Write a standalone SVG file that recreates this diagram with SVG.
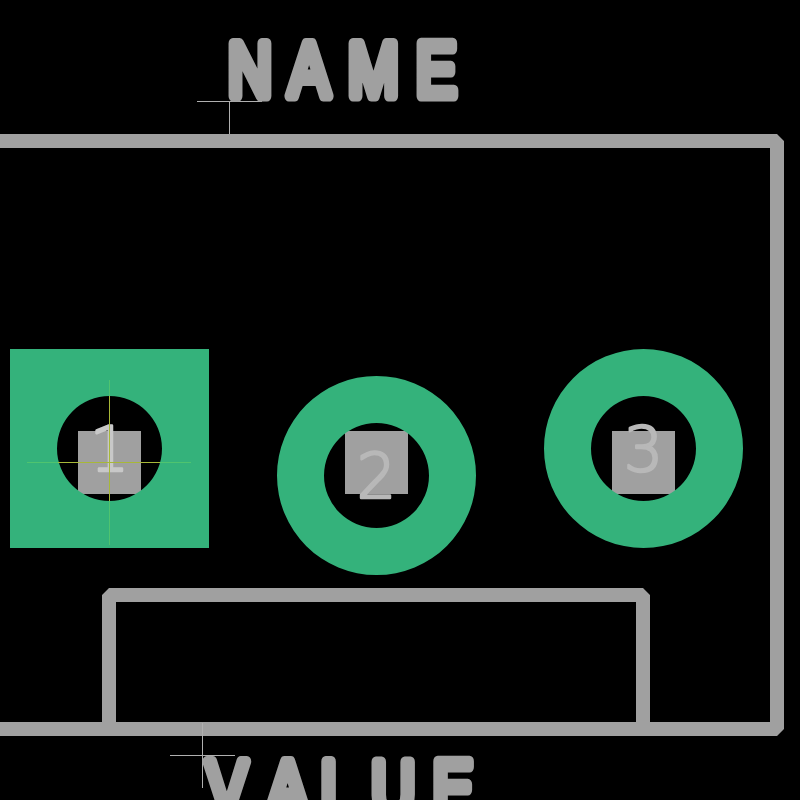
<svg xmlns="http://www.w3.org/2000/svg" width="800" height="800" viewBox="0 0 800 800">
<style>
.outline{fill:none;stroke:#a0a0a0;stroke-width:14;stroke-linejoin:bevel}
.label{font-family:"Liberation Sans",Arial,sans-serif;font-size:76px;fill:#a0a0a0;stroke:#a0a0a0;stroke-width:10;stroke-linejoin:round;stroke-linecap:round;vector-effect:non-scaling-stroke}
.drill{fill:#a0a0a0}
.cu{fill:#34b27b;fill-rule:evenodd}
.num{font-family:"DejaVu Sans",sans-serif;font-size:62px;font-weight:200;text-anchor:middle;stroke-width:2.500;stroke-linejoin:round}
.cross{stroke:#b0b0b0;stroke-width:1;fill:none}
</style>
<rect width="800" height="800" fill="#000"/>
<g id="connectors">
<path class="outline" d="M-10 141H777V729H-10"/>
<path class="outline" d="M109 729V595H643V729"/>
<path class="cross" d="M197 101.500H262M229.500 101V134"/>
<path class="cross" d="M170 755.500H235M202.500 723V788"/>
</g>
<g id="name-label"><text class="label" transform="translate(0 96) scale(.8 1)" x="285 361 435 520" y="0">NAME</text></g>
<g id="value-label"><text class="label" transform="translate(0 814) scale(.8 1)" x="258 334 401 464 541" y="0">VALUE</text></g>
<g id="pad1">
<rect class="drill" x="78" y="431" width="63" height="63"/>
<path class="cu" d="M10 349H209V548H10ZM57 448.500a52.500 52.500 0 1 0 105 0a52.500 52.500 0 1 0 -105 0Z"/>
<text class="num" x="109.500" y="470.500" fill="#c8c8c8" stroke="#c8c8c8">1</text>
<path d="M109.500 380V545M27 462.500H191" stroke="#4fc46f" stroke-width="1" fill="none"/>
<path d="M109.500 396V501M58 462.500H160" stroke="#a8b838" stroke-width="1" fill="none"/>
</g>
<g id="pad2">
<rect class="drill" x="345" y="431" width="63" height="63"/>
<path class="cu" d="M277 475.500a99.500 99.500 0 1 0 199 0a99.500 99.500 0 1 0 -199 0ZM324 475.500a52.500 52.500 0 1 0 105 0a52.500 52.500 0 1 0 -105 0Z"/>
<text class="num" x="376.500" y="497.500" fill="#b8b8b8" stroke="#b8b8b8">2</text>
</g>
<g id="pad3">
<rect class="drill" x="612" y="431" width="63" height="63"/>
<path class="cu" d="M544 448.500a99.500 99.500 0 1 0 199 0a99.500 99.500 0 1 0 -199 0ZM591 448.500a52.500 52.500 0 1 0 105 0a52.500 52.500 0 1 0 -105 0Z"/>
<text class="num" x="643.500" y="471" fill="#b8b8b8" stroke="#b8b8b8">3</text>
</g>
</svg>
